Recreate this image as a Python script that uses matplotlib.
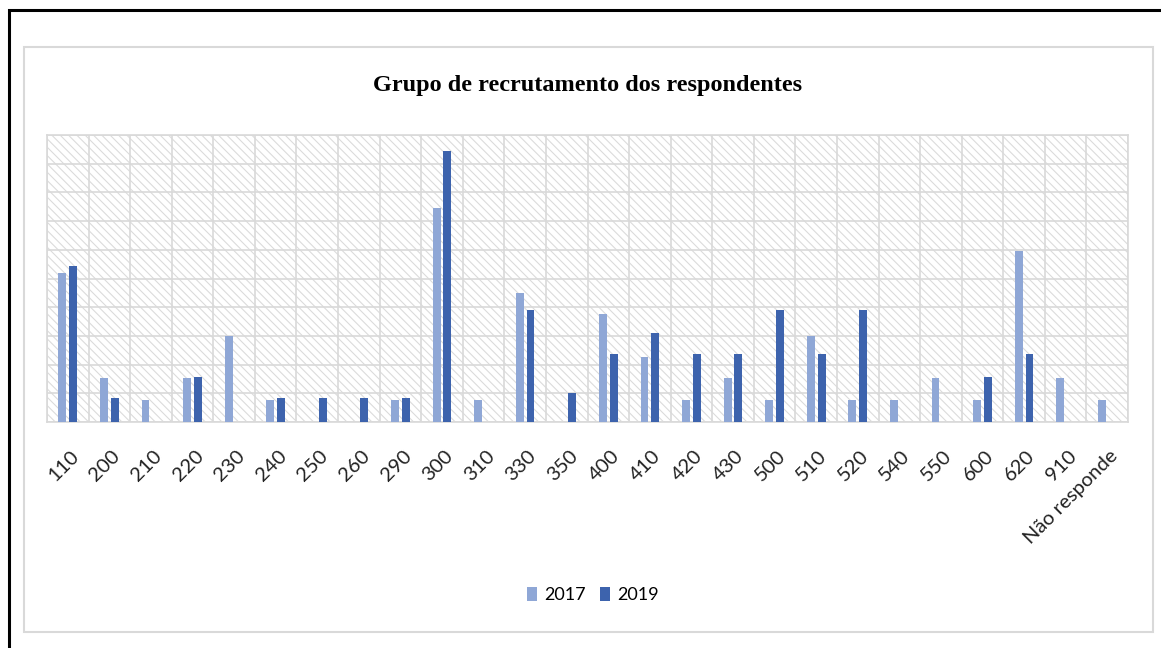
import matplotlib.pyplot as plt
import matplotlib.patches as mpatches
import numpy as np

# Grupos de recrutamento (categorias do eixo x)
grupos = ['110', '200', '210', '220', '230', '240', '250', '260', '290', '300',
          '310', '330', '350', '400', '410', '420', '430', '500', '510', '520',
          '540', '550', '600', '620', '910', 'Não responde']

# Percentual de respondentes por ano
v2017 = [10.4, 3.1, 1.55, 3.1, 6.0, 1.55, 0, 0, 1.55, 14.9,
         1.55, 9.0, 0, 7.5, 4.5, 1.55, 3.1, 1.55, 6.0, 1.55,
         1.55, 3.1, 1.55, 11.9, 3.1, 1.55]
v2019 = [10.9, 1.65, 0, 3.15, 0, 1.65, 1.65, 1.65, 1.65, 18.9,
         0, 7.8, 2.0, 4.75, 6.2, 4.75, 4.75, 7.8, 4.75, 7.8,
         0, 0, 3.15, 4.75, 0, 0]

cor2017 = '#8FA7D6'
cor2019 = '#3D63AD'

plt.rcParams['hatch.linewidth'] = 0.75

fig = plt.figure(figsize=(11.61, 6.48), dpi=100)
ax = fig.add_axes([47/1161, 1-422/648, (1128-47)/1161, (422-135)/648])

# Bordas da figura (linha preta da página e moldura cinza do gráfico)
fig.patches.append(mpatches.Rectangle((8.5/1161, -0.1), 1.2, 1.1 - 10/648,
                                      transform=fig.transFigure, fill=False,
                                      edgecolor='black', linewidth=2.2))
fig.patches.append(mpatches.Rectangle((24/1161, 1-632/648), (1153-24)/1161, (632-47)/648,
                                      transform=fig.transFigure, fill=False,
                                      edgecolor='#D9D9D9', linewidth=1.5))

# Fundo hachurado da área de plotagem
ax.add_patch(mpatches.Rectangle((0, 0), 1, 1, transform=ax.transAxes,
                                facecolor='white', edgecolor='#DADADA',
                                hatch='\\\\\\\\', linewidth=0, zorder=0))

x = np.arange(len(grupos))
largura = 0.19
ax.bar(x - 0.13, v2017, largura, color=cor2017, label='2017', zorder=3)
ax.bar(x + 0.13, v2019, largura, color=cor2019, label='2019', zorder=3)

ax.set_xlim(-0.5, len(grupos) - 0.5)
ax.set_ylim(0, 20)
ax.set_yticks(np.arange(0, 21, 2))
ax.set_xticks(x + 0.05)
ax.set_xticks(np.arange(-0.5, len(grupos), 1), minor=True)
ax.set_xticklabels(grupos, rotation=45, ha='right', rotation_mode='anchor',
                   fontsize=14.5, color='#222222', family=['Lato', 'DejaVu Sans'])
ax.tick_params(axis='x', which='both', length=0, pad=18)
ax.tick_params(axis='y', length=0, labelleft=False)

ax.grid(axis='y', which='major', color='#D9D9D9', linewidth=1.2, zorder=1)
ax.grid(axis='x', which='minor', color='#D9D9D9', linewidth=1.2, zorder=1)
ax.grid(axis='x', which='major', visible=False)
ax.set_axisbelow(True)
for s in ax.spines.values():
    s.set_color('#D9D9D9')
    s.set_linewidth(1.2)

fig.text(588/1161, 1-86/648, 'Grupo de recrutamento dos respondentes',
         ha='center', va='center', fontsize=17.5, fontweight='bold',
         family='Liberation Serif')

fig.legend(loc='center', bbox_to_anchor=(593/1161, 1-595/648), ncol=2,
           frameon=False, handlelength=0.55, handleheight=0.8,
           handletextpad=0.4, columnspacing=0.8,
           prop={'family': ['Lato', 'DejaVu Sans'], 'size': 13})

fig.savefig('out.png', dpi=100)
